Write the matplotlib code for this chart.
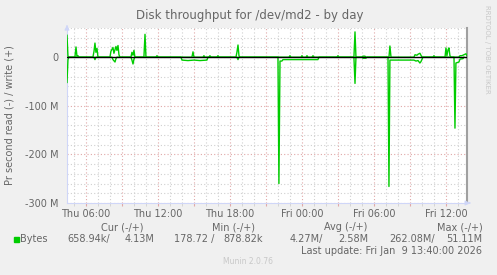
"""
Munin style disk throughput graph (read negative / write positive)
"""

import numpy as np
import matplotlib.pyplot as plt
from matplotlib.ticker import FixedLocator, MultipleLocator

# hours since Thu 00:00, values in MB/s
write_hours = [4.42, 4.5, 4.58,
               5.08, 5.17, 5.25, 5.33, 5.42,
               6.58, 6.67, 6.75, 6.83, 6.92, 7.0,
               8.0, 8.08, 8.25, 8.33, 8.5, 8.58, 8.67, 8.75, 8.83,
               9.75, 9.83, 9.92, 10.0, 10.08,
               10.83, 10.92, 11.0,
               11.83, 11.92, 12.0,
               14.83, 14.92, 15.0,
               15.75, 15.83, 15.92,
               16.25, 16.33, 16.42,
               16.92, 17.0, 17.08,
               18.5, 18.58, 18.67, 18.75, 18.83,
               22.92, 23.0, 23.08,
               23.92, 24.0, 24.08,
               24.33, 24.42, 24.5,
               24.83, 24.92, 25.0,
               26.92, 27.0, 27.08,
               28.33, 28.42, 28.5,
               29.0, 29.08, 29.25, 29.33,
               31.25, 31.33, 31.42,
               33.33, 33.42, 33.58, 33.67, 33.83, 34.0,
               34.92, 35.0, 35.08,
               35.92, 36.0, 36.08, 36.17, 36.25, 36.33, 36.42,
               37.08, 37.17, 37.33, 37.5, 37.67, 37.75]
write_mb = [45, 2, 0,
            0, 21, 2, 3, 0,
            0, 12, 29, 10, 18, 0,
            0, 12, 20, 8, 22, 14, 24, 5, 0,
            0, 10, 4, 14, 0,
            0, 47, 0,
            0, 3, 0,
            0, 11, 0,
            0, 3, 0,
            0, 3, 0,
            0, 3, 0,
            0, 10, 25, 3, 0,
            0, 3, 0,
            0, 3, 0,
            0, 3, 0,
            0, 3, 0,
            0, 3, 0,
            0, 52, 0,
            0, 2, 2, 0,
            0, 23, 0,
            0, 5, 4, 6, 8, 0,
            0, 3, 0,
            0, 19, 3, 15, 19, 3, 0,
            0, 3, 3, 5, 7, 3]

read_hours = [4.42, 4.5, 4.58,
              6.67, 6.75, 6.83,
              8.17, 8.25, 8.42, 8.5, 8.58,
              9.75, 9.83, 9.92, 10.0, 10.08,
              13.92, 14.0, 14.5, 15.0, 15.5, 16.08, 16.17,
              18.58, 18.67, 18.75,
              22.0, 22.08, 22.17, 22.33, 22.42, 23.5, 24.5, 25.33, 25.42,
              28.33, 28.42, 28.5,
              29.0, 29.08, 29.33, 29.42,
              31.17, 31.25, 31.33, 32.0, 33.33, 33.5, 33.67, 33.83, 33.92, 34.08,
              36.67, 36.75, 36.83, 37.08, 37.17, 37.42, 37.5]
read_mb = [-52, -5, 0,
           0, -5, 0,
           0, -5, -10, -3, 0,
           0, -6, -14, -4, 0,
           0, -6, -7, -6, -7, -6, 0,
           0, -5, 0,
           0, -260, -8, -8, -5, -5, -5, -5, 0,
           0, -54, 0,
           0, -2, -2, 0,
           0, -266, -6, -6, -6, -8, -7, -12, -9, 0,
           0, -146, -12, -10, -4, -3, 0]

tick_hours = [6, 12, 18, 24, 30, 36]
tick_labels = ['Thu 06:00', 'Thu 12:00', 'Thu 18:00',
               'Fri 00:00', 'Fri 06:00', 'Fri 12:00']
ytick_vals = [0, -100, -200, -300]
ytick_labels = ['0', '-100 M', '-200 M', '-300 M']

legend_heads = ['Cur (-/+)', 'Min (-/+)', 'Avg (-/+)', 'Max (-/+)']
legend_read = ['658.94k/', '178.72 /', '4.27M/', '262.08M/']
legend_write = ['4.13M', '878.82k', '2.58M', '51.11M']

FONT = '#666666'
GREEN = '#00CC00'

fig = plt.figure(figsize=(4.97, 2.75), dpi=100, facecolor='#F0F0F0')
ax = fig.add_axes([67 / 497, 1 - 203 / 275, 400 / 497, 175 / 275])
ax.set_facecolor('white')

x0, x1 = 4.42, 4.42 + 400 / 12
ax.set_xlim(x0, x1)
ax.set_ylim(-300, 60)

# grid: minor every hour / 20M, major every 3 hours / 100M
major_hours = np.arange(6, 38, 3)
ax.xaxis.set_major_locator(FixedLocator(major_hours))
ax.xaxis.set_minor_locator(MultipleLocator(1))
ax.yaxis.set_major_locator(FixedLocator(ytick_vals))
ax.yaxis.set_minor_locator(MultipleLocator(20))
ax.grid(which='minor', color='#D0D0D0', linestyle=(0, (1, 2)), linewidth=0.8)
ax.grid(which='major', color='#E0A8A8', linestyle=(0, (1, 2)), linewidth=0.8)
ax.set_axisbelow(True)

ax.set_xticklabels([tick_labels[tick_hours.index(h)] if h in tick_hours else ''
                    for h in major_hours])
ax.set_yticklabels(ytick_labels)
ax.tick_params(axis='both', which='both', length=2, colors='#E0A8A8',
               labelcolor=FONT, labelsize=7, pad=2)
ax.tick_params(axis='both', which='minor', colors='#D0D0D0')
ax.tick_params(axis='y', which='both', length=0, pad=6)

ax.spines['top'].set_visible(False)
ax.spines['left'].set_color('#CFD6F8')
ax.spines['bottom'].set_color('#CFD6F8')
ax.spines['right'].set_color('#A0A0A0')
ax.spines['right'].set_linewidth(1.5)

# data
ax.plot(write_hours, write_mb, color=GREEN, linewidth=1, zorder=3)
ax.plot(read_hours, read_mb, color=GREEN, linewidth=1, zorder=3)
ax.axhline(0, color='black', linewidth=1, zorder=4)

# arrows on axes
ax.annotate('', xy=(x1 + 0.5, -300), xytext=(x1, -300),
            arrowprops=dict(arrowstyle='-|>', color='#CFD6F8', lw=0.8,
                            mutation_scale=7), annotation_clip=False)
ax.annotate('', xy=(x0, 72), xytext=(x0, 58),
            arrowprops=dict(arrowstyle='-|>', color='#CFD6F8', lw=0.8,
                            mutation_scale=7), annotation_clip=False)

fig.text(250 / 497, 1 - 16 / 275, 'Disk throughput for /dev/md2 - by day',
         ha='center', va='center', fontsize=8.5, color=FONT)
fig.text(10 / 497, 1 - 115 / 275, 'Pr second read (-) / write (+)',
         rotation=90, ha='center', va='center', fontsize=7, color=FONT)
fig.text(487 / 497, 1 - 5 / 275, 'RRDTOOL / TOBI OETIKER', rotation=270,
         ha='center', va='top', fontsize=5, color='#C8C8C8')

# legend
head_x = [122, 234, 346, 460]
read_x = [110, 214, 323, 435]
write_x = [154, 263, 368, 482]
for i in range(4):
    fig.text(head_x[i] / 497, 1 - 227 / 275, legend_heads[i],
             ha='center', va='center', fontsize=7, color=FONT)
    fig.text(read_x[i] / 497, 1 - 239 / 275, legend_read[i],
             ha='right', va='center', fontsize=7, color=FONT)
    fig.text(write_x[i] / 497, 1 - 239 / 275, legend_write[i],
             ha='right', va='center', fontsize=7, color=FONT)
fig.patches.append(plt.Rectangle((14 / 497, 1 - 242 / 275), 5 / 497, 5 / 275,
                                 transform=fig.transFigure, color=GREEN,
                                 figure=fig))
fig.text(20 / 497, 1 - 239 / 275, 'Bytes', ha='left', va='center',
         fontsize=7, color=FONT)
fig.text(482 / 497, 1 - 251 / 275, 'Last update: Fri Jan  9 13:40:00 2026',
         ha='right', va='center', fontsize=7, color=FONT)
fig.text(248 / 497, 1 - 262 / 275, 'Munin 2.0.76', ha='center', va='center',
         fontsize=5.5, color='#C8C8C8')

fig.savefig('out.png', dpi=100, facecolor=fig.get_facecolor())
